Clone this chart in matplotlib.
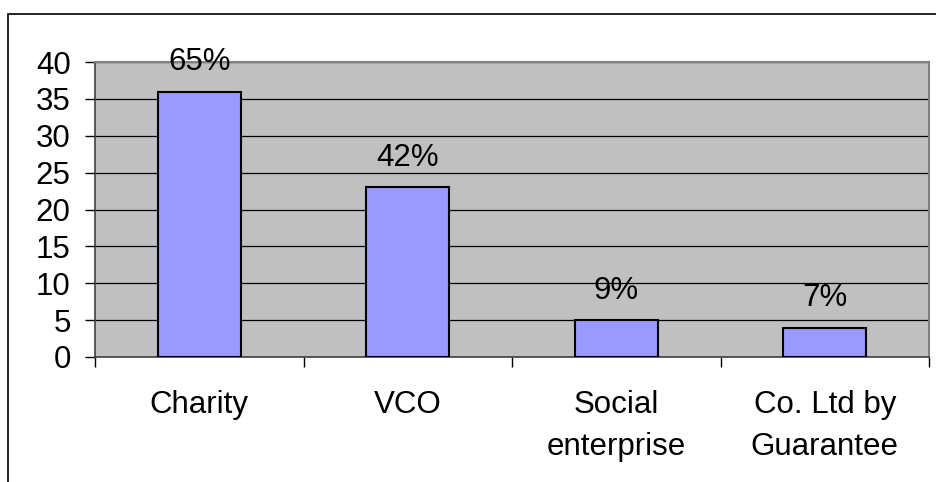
import matplotlib.pyplot as plt
from matplotlib.patches import Rectangle
import numpy as np

plt.rcParams['font.family'] = ['Liberation Sans', 'DejaVu Sans']

categories = ["Charity", "VCO", "Social\nenterprise", "Co. Ltd by\nGuarantee"]
counts = [36, 23, 5, 4]
shares = ["65%", "42%", "9%", "7%"]

W, H = 936, 482
fs = 22.5
fig = plt.figure(figsize=(W / 100, H / 100), dpi=100)

# outer chart frame (runs off the right and bottom edges)
fig.patches.append(Rectangle((8 / W, -0.1), 1.2, 1 - 14 / H + 0.1,
                             transform=fig.transFigure, fill=False,
                             edgecolor='black', linewidth=1.2))

ax = fig.add_axes([95 / W, 1 - 357 / H, (929 - 95) / W, (357 - 62) / H])
ax.set_facecolor('#C0C0C0')

x = np.arange(len(categories))
ax.bar(x, counts, width=0.4, color='#9999FF', edgecolor='black',
       linewidth=1.5, zorder=3)

for xi, c, s in zip(x, counts, shares):
    ax.annotate(s, (xi, c), xytext=(0, 21), textcoords='offset points',
                ha='center', va='center', fontsize=fs, zorder=4)

ax.set_xlim(-0.5, len(categories) - 0.5)
ax.set_ylim(0, 40)
ax.set_yticks(range(0, 41, 5))
ax.yaxis.grid(True, color='black', linewidth=0.9, zorder=1)
ax.set_axisbelow(True)

# category ticks sit on the boundaries, labels in between
ax.set_xticks(np.arange(-0.5, len(categories), 1.0))
ax.set_xticklabels([])
ax.set_xticks(x, minor=True)
ax.set_xticklabels(categories, minor=True, fontsize=fs, linespacing=1.5)
ax.tick_params(axis='x', which='minor', length=0, pad=24)
ax.tick_params(axis='x', which='major', length=7.5, width=1, direction='out')
ax.tick_params(axis='y', length=7.5, width=1, labelsize=fs, pad=10)

for side in ['left', 'bottom']:
    ax.spines[side].set_color('#404040')
    ax.spines[side].set_linewidth(1.2)
for side in ['top', 'right']:
    ax.spines[side].set_color('#808080')
    ax.spines[side].set_linewidth(1.5)

plt.savefig("out.png", dpi=100)
